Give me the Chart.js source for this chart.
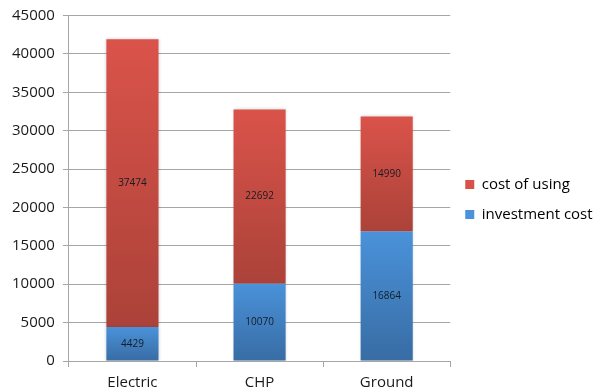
<!DOCTYPE html>
<html>
<head>
<meta charset="utf-8">
<script src="https://cdn.jsdelivr.net/npm/chart.js@4.4.1/dist/chart.umd.min.js"></script>
<style>
  html, body { margin: 0; padding: 0; background: #ffffff; }
  #wrap { width: 599px; height: 390px; position: relative; }
</style>
</head>
<body>
<div id="wrap"><canvas id="c" width="599" height="390"></canvas></div>
<script>
// Heating options compared by cost
const categories = ['Electric', 'CHP', 'Ground'];
const investmentCost = [4429, 10070, 16864];
const costOfUsing = [37474, 22692, 14990];
const yTicks = [0, 5000, 10000, 15000, 20000, 25000, 30000, 35000, 40000, 45000];

const FONT = '"Open Sans", "DejaVu Sans", sans-serif';

// Vertical gradient for one stacked segment, spanning from its base to its top
function segmentGradient(ctx, topColor, bottomColor, lowValues, highValues) {
  const chart = ctx.chart;
  const y = chart.scales && chart.scales.y;
  if (!chart.chartArea || !y || ctx.dataIndex === undefined) return topColor;
  const i = ctx.dataIndex;
  const top = y.getPixelForValue(highValues[i]);
  const bottom = y.getPixelForValue(lowValues[i]);
  const g = chart.ctx.createLinearGradient(0, top, 0, bottom);
  g.addColorStop(0, topColor);
  g.addColorStop(1, bottomColor);
  return g;
}

const zeros = categories.map(() => 0);
const stackTop = investmentCost.map((v, i) => v + costOfUsing[i]);

// Soft shadow behind the bars
const barShadow = {
  id: 'barShadow',
  beforeDatasetsDraw(chart) {
    const c = chart.ctx;
    c.save();
    c.shadowColor = 'rgba(0,0,0,0.18)';
    c.shadowBlur = 3;
    c.shadowOffsetX = 0;
    c.shadowOffsetY = 0;
  },
  afterDatasetsDraw(chart) {
    chart.ctx.restore();
  }
};

// Value printed in the middle of every segment
const segmentValues = {
  id: 'segmentValues',
  afterDatasetsDraw(chart) {
    const c = chart.ctx;
    c.save();
    c.font = '10px ' + FONT;
    c.fillStyle = '#141c26';
    c.textAlign = 'center';
    c.textBaseline = 'middle';
    chart.data.datasets.forEach((ds, di) => {
      const meta = chart.getDatasetMeta(di);
      meta.data.forEach((bar, i) => {
        const v = ds.data[i];
        c.fillText(String(v), bar.x, (bar.y + bar.base) / 2);
      });
    });
    c.restore();
  }
};

new Chart(document.getElementById('c'), {
  type: 'bar',
  data: {
    labels: categories,
    datasets: [
      {
        label: 'investment cost',
        data: investmentCost,
        backgroundColor: (ctx) => segmentGradient(ctx, '#4a92da', '#386ca4', zeros, investmentCost),
        borderWidth: 0,
        categoryPercentage: 0.41,
        barPercentage: 1.0
      },
      {
        label: 'cost of using',
        data: costOfUsing,
        backgroundColor: (ctx) => segmentGradient(ctx, '#da534a', '#ab4239', investmentCost, stackTop),
        borderWidth: 0,
        categoryPercentage: 0.41,
        barPercentage: 1.0
      }
    ]
  },
  options: {
    responsive: false,
    animation: false,
    devicePixelRatio: 1,
    layout: { padding: { left: 4, right: 0, top: 1, bottom: -8 } },
    plugins: {
      tooltip: { enabled: false },
      legend: {
        position: 'right',
        reverse: true,
        labels: {
          boxWidth: 9,
          boxHeight: 9,
          padding: 15,
          color: '#262626',
          font: { family: FONT, size: 15 },
          generateLabels(chart) {
            const swatches = ['#4a92da', '#d8524a'];
            return chart.data.datasets.map((ds, i) => ({
              text: ds.label,
              fillStyle: swatches[i],
              strokeStyle: swatches[i],
              lineWidth: 0,
              datasetIndex: i,
              hidden: false
            }));
          }
        }
      }
    },
    scales: {
      x: {
        stacked: true,
        grid: {
          display: true,
          drawOnChartArea: false,
          drawTicks: true,
          tickLength: 6,
          color: '#a6a6a6',
          offset: true
        },
        border: { display: true, color: '#a6a6a6', width: 1 },
        ticks: {
          color: '#1a1a1a',
          font: { family: FONT, size: 15, lineHeight: 1 },
          padding: 8
        }
      },
      y: {
        stacked: true,
        min: 0,
        max: 45000,
        afterBuildTicks(scale) {
          scale.ticks = yTicks.map(v => ({ value: v }));
        },
        grid: {
          color: '#a6a6a6',
          tickLength: 6,
          lineWidth: 1
        },
        border: { display: true, color: '#a6a6a6', width: 1 },
        ticks: {
          color: '#1a1a1a',
          font: { family: FONT, size: 15, lineHeight: 1 },
          padding: 8,
          callback: (v) => String(v)
        }
      }
    }
  },
  plugins: [barShadow, segmentValues]
});
</script>
</body>
</html>
